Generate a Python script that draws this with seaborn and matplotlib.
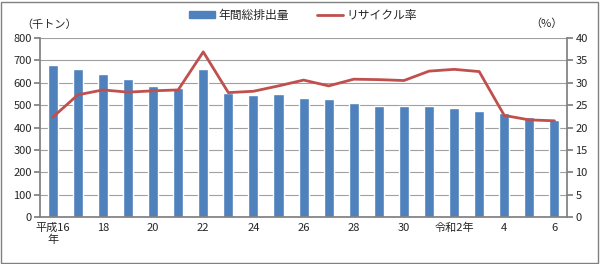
import matplotlib
matplotlib.use("Agg")
import matplotlib.pyplot as plt
from matplotlib.patches import Patch
from matplotlib.lines import Line2D
import pandas as pd
import seaborn as sns
import numpy as np

# 年度 (平成16年 ~ 令和6年)
years = ["平成16\n年", "17", "18", "19", "20", "21", "22", "23", "24", "25", "26",
         "27", "28", "29", "30", "令和元", "令和2年", "3", "4", "5", "6"]
haishutsu = [678, 663, 640, 619, 587, 578, 661, 553, 547, 552, 534,
             527, 510, 498, 497, 496, 486, 475, 465, 447, 432]
recycle = [22.3, 27.3, 28.4, 27.9, 28.2, 28.4, 36.9, 27.8, 28.1, 29.3, 30.6,
           29.3, 30.8, 30.7, 30.5, 32.6, 33.0, 32.5, 22.7, 21.7, 21.5]
shown_labels = ["平成16\n年", "", "18", "", "20", "", "22", "", "24", "", "26",
                "", "28", "", "30", "", "令和2年", "", "4", "", "6"]

df = pd.DataFrame({"year": years, "haishutsu": haishutsu, "recycle": recycle})
df["pos"] = np.arange(len(df))

sns.set_theme(style="white")
plt.rcParams['font.family'] = ['Noto Sans CJK JP', 'DejaVu Sans']

bar_c = "#4F81BD"
line_c = "#C0504D"

fig = plt.figure(figsize=(6, 2.64), dpi=100)
ax = fig.add_axes([0.067, 0.178, 0.878, 0.678])

sns.barplot(data=df, x="year", y="haishutsu", color=bar_c, width=0.4,
            saturation=1, ax=ax)
ax.set_ylim(0, 800)
ax.set_yticks(range(0, 801, 100))
ax.yaxis.grid(True, color="#a0a0a0", linewidth=0.8)
ax.set_axisbelow(True)
ax.set_xlim(-0.5, len(df) - 0.5)
ax.set_xticks(df["pos"])
ax.set_xticklabels(shown_labels, fontsize=8)
ax.tick_params(axis="x", length=0, pad=4)
ax.set_xticks(np.arange(-0.5, len(df), 1), minor=True)
ax.tick_params(axis="x", which="minor", length=3, color="#808080", direction="out")
ax.tick_params(axis="y", labelsize=8, length=4, color="#808080", pad=2)
ax.set_xlabel("")
ax.set_ylabel("")
for s in ["top", "right"]:
    ax.spines[s].set_visible(False)
ax.spines["left"].set_color("#808080")
ax.spines["bottom"].set_color("#808080")

ax2 = ax.twinx()
sns.lineplot(data=df, x="pos", y="recycle", color=line_c, linewidth=2, ax=ax2)
ax2.set_ylim(0, 40)
ax2.set_yticks(range(0, 41, 5))
ax2.tick_params(axis="y", labelsize=8, length=4, color="#808080", pad=2)
ax2.set_ylabel("")
ax2.set_xlabel("")
for s in ["top", "left"]:
    ax2.spines[s].set_visible(False)
ax2.spines["right"].set_color("#808080")
ax2.spines["bottom"].set_visible(False)
ax2.set_xlim(-0.5, len(df) - 0.5)

fig.text(0.035, 0.905, "（千トン）", fontsize=8, ha="left", va="center")
fig.text(0.937, 0.912, "（%）", fontsize=8, ha="right", va="center")

handles = [Patch(color=bar_c), Line2D([0], [0], color=line_c, linewidth=2)]
fig.legend(handles, ["年間総排出量", "リサイクル率"], loc="center",
           bbox_to_anchor=(0.505, 0.943), ncol=2, frameon=False, fontsize=8.5,
           handlelength=2.2, handleheight=0.6, columnspacing=2.3, handletextpad=0.3)

fig.patches.append(plt.Rectangle((0.002, 0.004), 0.995, 0.99, transform=fig.transFigure,
                                 fill=False, edgecolor="#808080", linewidth=1))

fig.savefig("out.png", dpi=100)
